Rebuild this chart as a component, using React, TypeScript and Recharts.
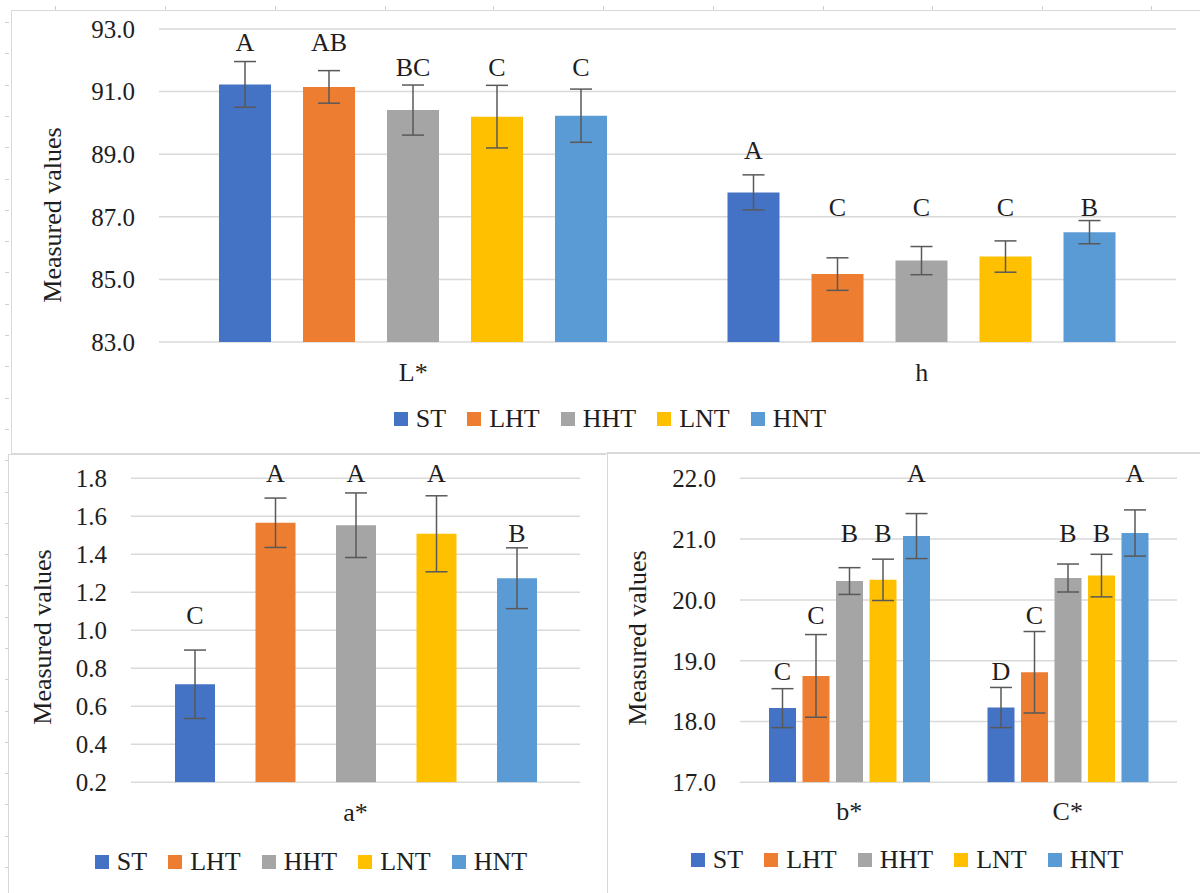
import React from 'react';
import { BarChart, Bar, XAxis, YAxis, CartesianGrid, ErrorBar, LabelList, Legend, Label } from 'recharts';

const SERIES = ['ST', 'LHT', 'HHT', 'LNT', 'HNT'];
const COLORS = ['#4472C4', '#ED7D31', '#A5A5A5', '#FFC000', '#5B9BD5'];

// Top chart: L* and h
const topCategories = ['L*', 'h'];
const topMeans = [[91.23, 87.78], [91.15, 85.17], [90.41, 85.6], [90.2, 85.73], [90.23, 86.51]];
const topErrors = [[0.73, 0.56], [0.52, 0.52], [0.8, 0.45], [1.0, 0.5], [0.85, 0.37]];
const topLetters = [['A', 'A'], ['AB', 'C'], ['BC', 'C'], ['C', 'C'], ['C', 'B']];
const topLetterLevels = [[92.31, 88.84], [92.31, 87.03], [91.5, 87.03], [91.5, 87.03], [91.5, 87.03]];
const topTicks = [83, 85, 87, 89, 91, 93];

// Bottom-left chart: a*
const aCategories = ['a*'];
const aMeans = [[0.716], [1.566], [1.553], [1.508], [1.274]];
const aErrors = [[0.18], [0.13], [0.17], [0.2], [0.16]];
const aLetters = [['C'], ['A'], ['A'], ['A'], ['B']];
const aLetterLevels = [[1.031], [1.782], [1.782], [1.782], [1.466]];
const aTicks = [0.2, 0.4, 0.6, 0.8, 1.0, 1.2, 1.4, 1.6, 1.8];

// Bottom-right chart: b* and C*
const bcCategories = ['b*', 'C*'];
const bcMeans = [[18.22, 18.23], [18.75, 18.81], [20.31, 20.36], [20.33, 20.4], [21.05, 21.1]];
const bcErrors = [[0.32, 0.33], [0.68, 0.67], [0.22, 0.23], [0.34, 0.35], [0.37, 0.38]];
const bcLetters = [['C', 'D'], ['C', 'C'], ['B', 'B'], ['B', 'B'], ['A', 'A']];
const bcLetterLevels = [[18.68, 18.68], [19.6, 19.6], [20.96, 20.96], [20.96, 20.96], [21.94, 21.94]];
const bcTicks = [17, 18, 19, 20, 21, 22];

const FONT = "'Liberation Serif', 'Times New Roman', serif";
const TEXT = '#1E1E1E';
const GRID = '#D9D9D9';

function buildRows(categories: string[], means: number[][], errors: number[][]) {
  return categories.map((c, ci) => {
    const row: any = { cat: c };
    SERIES.forEach((s, si) => {
      row[s] = means[si][ci];
      row[s + '_err'] = errors[si][ci];
    });
    return row;
  });
}

function makeLetterLabel(letters: string[], levels: number[], means: number[], domainMin: number) {
  return (props: any) => {
    const { x, y, width, height, index } = props;
    const i = index ?? 0;
    const v = means[i];
    const pxPer = Number(height) / (v - domainMin);
    const baseY = Number(y) + Number(height) - (levels[i] - domainMin) * pxPer;
    return (
      <text x={Number(x) + Number(width) / 2} y={baseY} textAnchor="middle" fontFamily={FONT} fontSize={26} fill={TEXT}>
        {letters[i]}
      </text>
    );
  };
}

const LegendContent = () => (
  <div style={{ display: 'flex', justifyContent: 'center', alignItems: 'center', height: 30, fontFamily: FONT, fontSize: 26, color: TEXT }}>
    {SERIES.map((s, i) => (
      <div key={s} style={{ display: 'flex', alignItems: 'center', marginRight: i < SERIES.length - 1 ? 21 : 0 }}>
        <span style={{ display: 'inline-block', width: 14, height: 14, background: COLORS[i], marginRight: 8 }} />
        <span style={{ lineHeight: '30px' }}>{s}</span>
      </div>
    ))}
  </div>
);

type PanelProps = {
  width: number;
  height: number;
  categories: string[];
  means: number[][];
  errors: number[][];
  letters: string[][];
  levels: number[][];
  ticks: number[];
  margin: any;
  xAxisHeight: number;
  barSize: number;
  barGap: number;
  catDy: number;
  title: { x: number; y: number };
  legendBox: { left: number; width: number };
};

function Panel(p: PanelProps) {
  const rows = buildRows(p.categories, p.means, p.errors);
  const dMin = p.ticks[0];
  const dMax = p.ticks[p.ticks.length - 1];
  return (
    <BarChart width={p.width} height={p.height} data={rows} margin={p.margin} barSize={p.barSize} barGap={p.barGap}>
      <CartesianGrid vertical={false} stroke={GRID} strokeWidth={1.5} />
      <XAxis
        dataKey="cat"
        axisLine={false}
        tickLine={false}
        tickSize={0}
        tickMargin={0}
        height={p.xAxisHeight}
        interval={0}
        tick={(tp: any) => (
          <text x={tp.x} y={tp.y + p.catDy} textAnchor="middle" fontFamily={FONT} fontSize={26} fill={TEXT}>
            {tp.payload.value}
          </text>
        )}
      />
      <YAxis
        width={100}
        domain={[dMin, dMax]}
        ticks={p.ticks}
        interval={0}
        allowDataOverflow
        axisLine={false}
        tickLine={false}
        tickSize={0}
        tickMargin={24}
        tickFormatter={(v: number) => v.toFixed(1)}
        tick={{ fontFamily: FONT, fontSize: 25, fill: TEXT }}
      >
        <Label
          content={() => (
            <text
              x={p.title.x}
              y={p.title.y}
              transform={`rotate(-90 ${p.title.x} ${p.title.y})`}
              textAnchor="middle"
              dominantBaseline="central"
              fontFamily={FONT}
              fontSize={26}
              fill={TEXT}
            >
              Measured values
            </text>
          )}
        />
      </YAxis>
      <Legend
        verticalAlign="bottom"
        height={30}
        content={() => <LegendContent />}
        wrapperStyle={{ left: p.legendBox.left, width: p.legendBox.width }}
      />
      {SERIES.map((s, si) => (
        <Bar key={s} dataKey={s} name={s} fill={COLORS[si]} isAnimationActive={false}>
          <ErrorBar dataKey={s + '_err'} width={11} strokeWidth={1.5} stroke="#595959" direction="y" />
          <LabelList
            dataKey={s}
            content={makeLetterLabel(p.letters[si], p.levels[si], p.means[si], dMin)}
          />
        </Bar>
      ))}
    </BarChart>
  );
}

const topRulerX = [55, 165, 275, 385, 493, 603, 713, 823, 932, 1042, 1151];

export default function App() {
  const leftTicks: number[] = [];
  for (let yy = 22; yy < 880; yy += 31.3) leftTicks.push(Math.round(yy));
  return (
    <div style={{ position: 'absolute', left: 0, top: 0, width: 1200, height: 893, background: '#fff', overflow: 'hidden' }}>
      {/* panel frames */}
      <div style={{ position: 'absolute', left: 11, top: 10, width: 1200, height: 442, borderLeft: `1.5px solid ${GRID}`, borderTop: `1.5px solid ${GRID}`, borderBottom: `1.5px solid ${GRID}` }} />
      <div style={{ position: 'absolute', left: 8, top: 454, width: 597, height: 450, borderLeft: `1.5px solid ${GRID}`, borderTop: `1.5px solid ${GRID}` }} />
      <div style={{ position: 'absolute', left: 607, top: 452, width: 600, height: 450, borderLeft: `1.5px solid ${GRID}`, borderTop: `1.5px solid ${GRID}` }} />
      {topRulerX.map((x) => (
        <div key={'rx' + x} style={{ position: 'absolute', left: x, top: 6, width: 1, height: 4, background: '#CFCFCF' }} />
      ))}
      {leftTicks.map((y) => (
        <div key={'ly' + y} style={{ position: 'absolute', left: 5, top: y, width: 4, height: 1, background: '#CFCFCF' }} />
      ))}

      <div style={{ position: 'absolute', left: 0, top: 0 }}>
        <Panel
          width={1200}
          height={452}
          categories={topCategories}
          means={topMeans}
          errors={topErrors}
          letters={topLetters}
          levels={topLetterLevels}
          ticks={topTicks}
          margin={{ top: 29, right: 24, left: 59, bottom: 18 }}
          xAxisHeight={62}
          barSize={52}
          barGap={32}
          catDy={39}
          title={{ x: 52, y: 215 }}
          legendBox={{ left: 20, width: 1180 }}
        />
      </div>

      <div style={{ position: 'absolute', left: 0, top: 452 }}>
        <Panel
          width={605}
          height={441}
          categories={aCategories}
          means={aMeans}
          errors={aErrors}
          letters={aLetters}
          levels={aLetterLevels}
          ticks={aTicks}
          margin={{ top: 26.3, right: 25, left: 31, bottom: 16 }}
          xAxisHeight={64.7}
          barSize={40}
          barGap={40.5}
          catDy={39}
          title={{ x: 42.5, y: 185 }}
          legendBox={{ left: 17, width: 588 }}
        />
      </div>

      <div style={{ position: 'absolute', left: 605, top: 452 }}>
        <Panel
          width={595}
          height={441}
          categories={bcCategories}
          means={bcMeans}
          errors={bcErrors}
          letters={bcLetters}
          levels={bcLetterLevels}
          ticks={bcTicks}
          margin={{ top: 26.3, right: 23, left: 35, bottom: 18 }}
          xAxisHeight={62.7}
          barSize={27}
          barGap={6.5}
          catDy={38}
          title={{ x: 32.5, y: 186 }}
          legendBox={{ left: 9, width: 586 }}
        />
      </div>
    </div>
  );
}
